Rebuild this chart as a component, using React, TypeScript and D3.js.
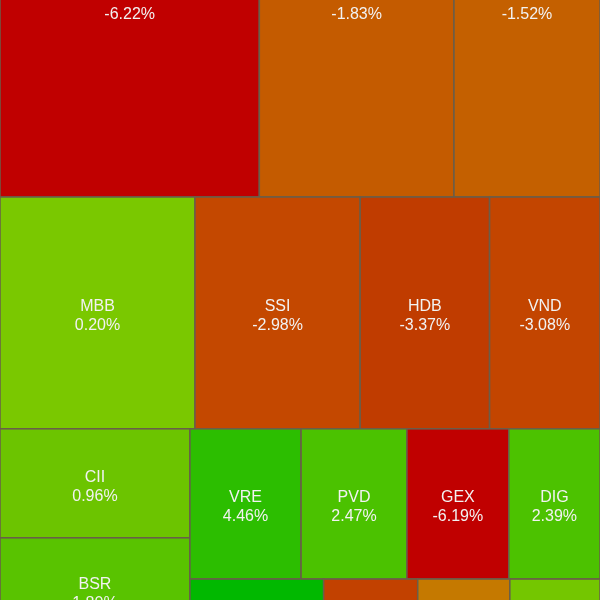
import React from "react";
import * as d3 from "d3";

// Rows of the treemap (market-cap weights and daily change %)
const row1Names = ["VIX", "SHB", "EIB"];
const row1Weights = [1014, 761, 571];
const row1Changes = [-6.22, -1.83, -1.52];

const row2Names = ["MBB", "SSI", "HDB", "VND"];
const row2Weights = [452, 383, 300, 256];
const row2Changes = [0.2, -2.98, -3.37, -3.08];

const leftColNames = ["CII", "BSR", "HCM"];
const leftColWeights = [207, 200, 70];
const leftColChanges = [0.96, 1.8, -1.2];

const subRowANames = ["VRE", "PVD", "GEX", "DIG"];
const subRowAWeights = [167, 159, 153, 137];
const subRowAChanges = [4.46, 2.47, -6.19, 2.39];

const subRowBNames = ["NVL", "VCI", "DXG", "VPB"];
const subRowBWeights = [135, 95, 93, 91];
const subRowBChanges = [6.95, -3.2, -1.0, 0.5];

const colorStops = [-6.2, -3.37, -2.98, -1.52, 0, 0.2, 0.96, 2.4, 4.46, 7];
const colorRange = ["#c00000", "#c03c00", "#c44800", "#c46000", "#c8a800", "#7ac800", "#6cc400", "#4cc200", "#2cbe00", "#00b800"];

type Node = { name: string; dir?: "h" | "v"; value?: number; change?: number; children?: Node[] };

const leaves = (names: string[], weights: number[], changes: number[]): Node[] =>
  names.map((n, i) => ({ name: n, value: weights[i], change: changes[i] }));

const data: Node = {
  name: "root",
  dir: "v",
  children: [
    { name: "r1", dir: "h", children: leaves(row1Names, row1Weights, row1Changes) },
    { name: "r2", dir: "h", children: leaves(row2Names, row2Weights, row2Changes) },
    {
      name: "r3",
      dir: "h",
      children: [
        { name: "left", dir: "v", children: leaves(leftColNames, leftColWeights, leftColChanges) },
        {
          name: "right",
          dir: "v",
          children: [
            { name: "ra", dir: "h", children: leaves(subRowANames, subRowAWeights, subRowAChanges) },
            { name: "rb", dir: "h", children: leaves(subRowBNames, subRowBWeights, subRowBChanges) },
          ],
        },
      ],
    },
  ],
};

const W = 600;
const FULL_H = 874;
const OFFSET_Y = -194;

export default function App() {
  const color = d3.scaleLinear<string>().domain(colorStops).range(colorRange).clamp(true);
  const root = d3.hierarchy<Node>(data).sum((d) => d.value || 0);
  const tile = (node: any, x0: number, y0: number, x1: number, y1: number) => {
    if (node.data.dir === "v") d3.treemapSlice(node, x0, y0, x1, y1);
    else d3.treemapDice(node, x0, y0, x1, y1);
  };
  d3.treemap<Node>().tile(tile as any).size([W, FULL_H])(root);
  const cells = root.leaves() as d3.HierarchyRectangularNode<Node>[];

  return (
    <div style={{ position: "fixed", left: 0, top: 0 }}>
      <svg width={600} height={600} style={{ display: "block" }}>
        <g transform={`translate(0,${OFFSET_Y})`}>
          {cells.map((c) => {
            const cx = (c.x0 + c.x1) / 2;
            const cy = (c.y0 + c.y1) / 2;
            return (
              <g key={c.data.name}>
                <rect
                  x={c.x0}
                  y={c.y0}
                  width={c.x1 - c.x0}
                  height={c.y1 - c.y0}
                  fill={color(c.data.change || 0)}
                  stroke="#6a5e4a"
                  strokeWidth={1.5}
                />
                <text
                  x={cx}
                  y={cy - 6}
                  textAnchor="middle"
                  dominantBaseline="middle"
                  fill="#f2f2f2"
                  fontFamily="'Liberation Sans', Arial, Helvetica, sans-serif"
                  fontSize={16}
                >
                  {c.data.name}
                </text>
                <text
                  x={cx}
                  y={cy + 13}
                  textAnchor="middle"
                  dominantBaseline="middle"
                  fill="#f2f2f2"
                  fontFamily="'Liberation Sans', Arial, Helvetica, sans-serif"
                  fontSize={16}
                >
                  {`${(c.data.change || 0).toFixed(2)}%`}
                </text>
              </g>
            );
          })}
        </g>
      </svg>
    </div>
  );
}
